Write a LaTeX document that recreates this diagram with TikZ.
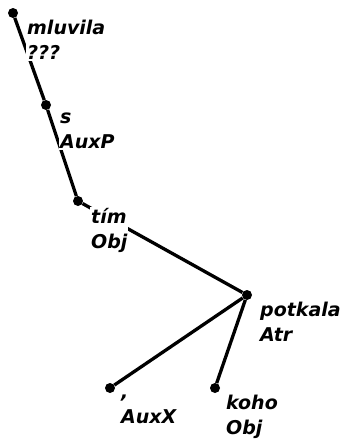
\documentclass[tikz,border=0pt]{standalone}
\usepackage{fontspec}
\newfontfamily\treefont{DejaVu Sans}
\usetikzlibrary{positioning}
\tikzset{
  dot/.style={circle,fill=black,inner sep=0pt,minimum size=10pt},
  edge/.style={line width=3.3pt},
  lbl/.style={anchor=north west,align=left,fill=white,inner sep=1pt,
    execute at begin node=\rule{0pt}{14pt},
    font=\treefont\bfseries\itshape\fontsize{19}{25}\selectfont},
}
\begin{document}
\begin{tikzpicture}[x=1pt,y=-1pt]
  \useasboundingbox (0,0) rectangle (345,447);
  % tree nodes
  \node[dot] (mluvila) at (13,13) {};
  \node[dot] (s) at (46,105) {};
  \node[dot] (tim) at (78,201) {};
  \node[dot] (potkala) at (247,295) {};
  \node[dot] (comma) at (110,388) {};
  \node[dot] (koho) at (215,388) {};
  % edges
  \draw[edge] (mluvila) -- (s);
  \draw[edge] (s) -- (tim);
  \draw[edge] (tim) -- (potkala);
  \draw[edge] (potkala) -- (comma);
  \draw[edge] (potkala) -- (koho);
  % labels
  \node[lbl] (mluvila-l) at ([xshift=13pt,yshift=-6pt]mluvila.center) {mluvila\\???};
  \node[lbl] (s-l) at ([xshift=13pt,yshift=-7pt]s.center) {s\\AuxP};
  \node[lbl] (tim-l) at ([xshift=12pt,yshift=-6pt]tim.center) {tím\\Obj};
  \node[lbl] (potkala-l) at ([xshift=12pt,yshift=-6pt]potkala.center) {potkala\\Atr};
  \node[lbl] (comma-l) at ([xshift=10pt,yshift=-6pt]comma.center) {,\\AuxX};
  \node[lbl] (koho-l) at ([xshift=10pt,yshift=-6pt]koho.center) {koho\\Obj};
\end{tikzpicture}
\end{document}
